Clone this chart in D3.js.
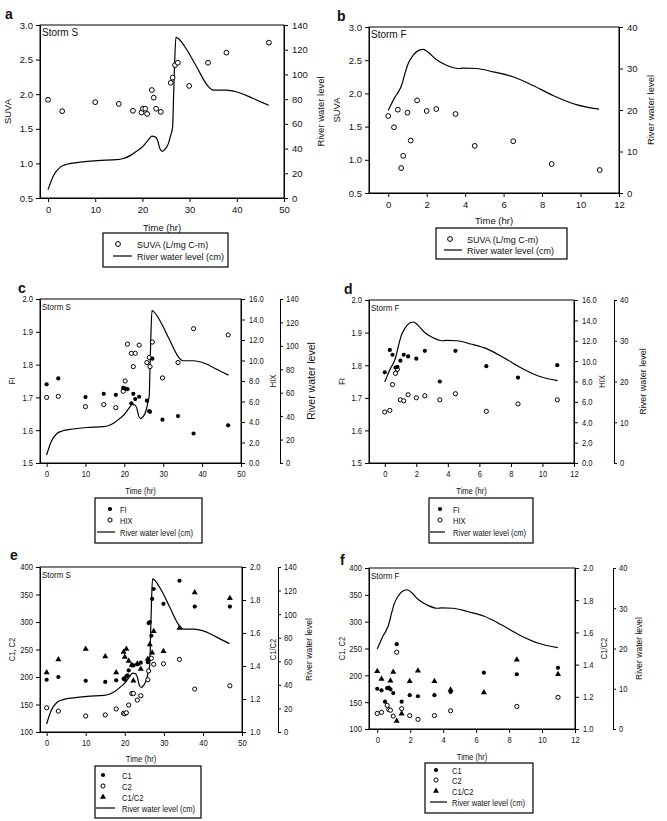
<!DOCTYPE html>
<html>
<head>
<meta charset="utf-8">
<script src="https://cdnjs.cloudflare.com/ajax/libs/d3/7.8.5/d3.min.js"></script>
<style>
  body { margin: 0; background: #fff; }
  text { font-family: "Liberation Sans", Arial, sans-serif; fill: #111; }
</style>
</head>
<body>
<svg id="chart" width="667" height="821"></svg>
<script>
// ---- river water level (cm) ----
const riverSTime  = [0, 1.2, 2.6, 4, 6.8, 10.4, 14.6, 16, 17.4, 18.8, 20, 21.2, 22, 22.7, 23.2, 23.7, 24.2, 24.8, 25.5, 26, 26.4, 26.6, 26.8, 27.1, 27.6, 29.4, 31.5, 33.9, 35, 37.8, 39.9, 43.5, 46.8];
const riverSLevel = [6.8, 18.4, 25, 27.3, 29, 30.3, 31, 32, 34.3, 38, 41.4, 46.8, 50, 49.5, 46.8, 40, 37.8, 39.5, 44, 50.8, 57.6, 82, 106, 130, 129, 120, 106, 90.5, 87.3, 87.3, 86, 80.5, 75];
const riverFTime  = [0, 0.17, 0.35, 0.52, 0.69, 0.87, 1.04, 1.3, 1.56, 1.82, 2.08, 2.51, 3.03, 3.64, 3.9, 4.59, 5.45, 6.49, 7.53, 8.57, 9.78, 10.96];
const riverFLevel = [19.9, 21.5, 23.1, 24.3, 25.9, 28.8, 31.2, 33.2, 34.3, 34.6, 33.9, 32.1, 30.8, 30, 30.1, 30, 29.2, 28, 25.9, 23.5, 21.3, 20.2];

// ---- a: SUVA storm S ----
const aTime = [0, 3, 10, 15, 18, 19.8, 20.1, 20.6, 21, 22, 22.4, 22.9, 23.9, 26, 26.4, 26.9, 27.5, 29.9, 33.9, 37.8, 46.8];
const aSuva = [1.92, 1.755, 1.885, 1.86, 1.76, 1.735, 1.79, 1.79, 1.715, 2.06, 1.95, 1.79, 1.745, 2.165, 2.24, 2.42, 2.455, 2.12, 2.455, 2.60, 2.745];

// ---- b: SUVA storm F ----
const bTime = [0, 0.3, 0.5, 0.67, 0.78, 1, 1.17, 1.5, 2, 2.5, 3.5, 4.5, 6.5, 8.5, 11];
const bSuva = [1.66, 1.49, 1.755, 0.876, 1.06, 1.71, 1.29, 1.895, 1.735, 1.765, 1.69, 1.21, 1.28, 0.937, 0.846];

// ---- c: FI / HIX storm S ----
const cTime = [0, 3, 10, 14.7, 17.8, 19.7, 20.2, 20.8, 21.8, 22.3, 22.8, 23.8, 25.8, 26.4, 26.6, 27.2, 29.8, 33.8, 37.8, 46.7];
const cFI   = [1.74, 1.758, 1.701, 1.711, 1.708, 1.729, 1.727, 1.725, 1.682, 1.711, 1.695, 1.702, 1.69, 1.658, 1.656, 1.818, 1.632, 1.643, 1.59, 1.615];
const cHIX  = [6.4, 6.5, 5.5, 5.7, 5.4, 7.0, 8.0, 11.6, 10.7, 9.4, 10.7, 11.5, 9.8, 10.3, 9.4, 11.8, 8.3, 9.8, 13.1, 12.5];

// ---- d: FI / HIX storm F ----
const dTime = [0, 0.32, 0.49, 0.68, 0.8, 0.99, 1.2, 1.48, 2.0, 2.54, 3.49, 4.48, 6.44, 8.45, 10.94];
const dFI   = [1.778, 1.847, 1.832, 1.793, 1.795, 1.814, 1.832, 1.827, 1.82, 1.844, 1.75, 1.844, 1.797, 1.762, 1.80];
const dHIX  = [5.0, 5.16, 7.7, 8.8, 9.2, 6.2, 6.1, 6.7, 6.4, 6.6, 6.2, 6.8, 5.07, 5.8, 6.2];

// ---- e: C1 / C2 storm S ----
const eTime  = [0, 3, 10, 15, 17.8, 19.7, 20, 20.4, 20.7, 21, 21.8, 22.2, 23.2, 24.1, 25.9, 26.1, 26.4, 26.8, 27, 27.4, 29.9, 34, 37.9, 46.9];
const eC1    = [195, 200, 193, 191, 194, 197, 195, 201, 203, 212, 221, 221, 223, 226, 227, 298, 300, 275, 342, 360, 333, 375, 328, 328];
const eC2    = [144, 138, 129, 131, 142, 134, 133, 135, null, 149, 170, 170, 158, 166, 195, 211, null, 234, null, 223, 224, 232, 178, 184];
const eRatio = [1.36, 1.44, 1.503, 1.457, 1.36, 1.485, 1.455, 1.503, null, 1.43, 1.406, 1.31, 1.414, 1.382, 1.442, null, 1.53, null, 1.48, 1.61, 1.49, 1.63, 1.845, 1.81];

// ---- f: C1 / C2 storm F ----
const fTime  = [0, 0.26, 0.47, 0.6, 0.7, 0.8, 0.97, 1.18, 1.48, 1.97, 2.47, 3.47, 4.45, 6.47, 8.47, 10.97];
const fC1    = [175, 172, 151, 176, 177, 174, 167, 258, 151, 163, 161, 163, 169, 205, 202, 214];
const fC2    = [129, 131, null, 144, 136, 135, 124, 243, 138, 125, 118, 125, 134, null, 142, 159];
const fRatio = [1.358, 1.31, null, null, null, 1.30, 1.354, 1.05, 1.095, 1.296, 1.362, 1.296, 1.244, 1.227, 1.43, 1.34];

const svg = d3.select("#chart");
const num1 = d3.format(".1f");

function marker(sel, type, cx, cy, r) {
  if (type === "open") {
    sel.append("circle").attr("cx", cx).attr("cy", cy).attr("r", r)
      .attr("fill", "#fff").attr("stroke", "#000").attr("stroke-width", 1);
  } else if (type === "filled") {
    sel.append("circle").attr("cx", cx).attr("cy", cy).attr("r", r).attr("fill", "#000");
  } else {
    sel.append("path").attr("d", d3.symbol(d3.symbolTriangle).size(r * r * 3.6)())
      .attr("transform", `translate(${cx},${cy})`).attr("fill", "#000");
  }
}

function panel(p) {
  const g = svg.append("g");
  const fs = p.fs;
  const r = p.narrow ? 2.1 : 2.4;
  const x = d3.scaleLinear().domain(p.xDomain).range([p.left, p.right]);
  const scales = {};
  scales.L = d3.scaleLinear().domain(p.yL.domain).range([p.bottom, p.top]);
  scales.R = d3.scaleLinear().domain(p.yR.domain).range([p.bottom, p.top]);
  if (p.y3) scales.T = d3.scaleLinear().domain(p.y3.domain).range([p.bottom, p.top]);

  const styleAxis = a => {
    a.selectAll("path,line").attr("stroke", "#000").attr("stroke-width", 1);
    a.selectAll("text").attr("font-size", fs).attr("fill", "#111");
  };

  g.append("g").attr("transform", `translate(0,${p.bottom})`)
    .call(d3.axisBottom(x).tickValues(p.xTicks).tickSize(4).tickPadding(4).tickSizeOuter(0))
    .call(styleAxis);
  g.append("g").attr("transform", `translate(${p.left},0)`)
    .call(d3.axisLeft(scales.L).tickValues(p.yL.ticks).tickFormat(p.yL.fmt).tickSize(4).tickPadding(3).tickSizeOuter(0))
    .call(styleAxis);
  g.append("g").attr("transform", `translate(${p.right},0)`)
    .call(d3.axisRight(scales.R).tickValues(p.yR.ticks).tickFormat(p.yR.fmt).tickSize(4).tickPadding(4).tickSizeOuter(0))
    .call(styleAxis);
  if (p.y3) {
    g.append("g").attr("transform", `translate(${p.y3.x},0)`)
      .call(d3.axisRight(scales.T).tickValues(p.y3.ticks).tickFormat(p.y3.fmt).tickSize(3).tickPadding(3).tickSizeOuter(0))
      .call(styleAxis);
  }
  g.append("rect").attr("x", p.left).attr("y", p.top)
    .attr("width", p.right - p.left).attr("height", p.bottom - p.top)
    .attr("fill", "none").attr("stroke", "#000").attr("stroke-width", 1);

  // river line
  const ry = scales[p.river.axis];
  const rdata = p.river.t.map((t, i) => [t, p.river.v[i]]);
  g.append("path").datum(rdata)
    .attr("d", d3.line().x(d => x(d[0])).y(d => ry(d[1])).curve(d3.curveMonotoneX))
    .attr("fill", "none").attr("stroke", "#000").attr("stroke-width", 1.2);

  // points
  p.series.forEach(s => {
    const ys = scales[s.axis];
    s.t.forEach((t, i) => {
      if (s.v[i] == null) return;
      marker(g, s.type, x(t), ys(s.v[i]), r);
    });
  });

  // titles
  g.append("text").attr("x", p.left + 2).attr("y", p.top + 11)
    .attr("font-size", fs + 0.5).text(p.storm);
  g.append("text").attr("x", (p.left + p.right) / 2).attr("y", p.bottom + p.timeDy)
    .attr("text-anchor", "middle").attr("font-size", fs).text("Time (hr)");
  const midY = (p.top + p.bottom) / 2;
  p.yTitles.forEach(([label, xx]) => {
    g.append("text").attr("transform", `translate(${xx},${midY}) rotate(-90)`)
      .attr("text-anchor", "middle").attr("font-size", fs).text(label);
  });

  // legend
  const L = p.legend;
  g.append("rect").attr("x", L.x0).attr("y", L.y0)
    .attr("width", L.x1 - L.x0).attr("height", L.y1 - L.y0)
    .attr("fill", "#fff").attr("stroke", "#000").attr("stroke-width", 1.2);
  L.items.forEach((it, i) => {
    const yy = L.rows[i];
    if (it.type === "line") {
      g.append("line").attr("x1", L.lx[0]).attr("x2", L.lx[1]).attr("y1", yy).attr("y2", yy)
        .attr("stroke", "#000").attr("stroke-width", 1.2);
    } else {
      marker(g, it.type, L.mx, yy, r);
    }
    g.append("text").attr("x", L.tx).attr("y", yy + 3.5).attr("font-size", p.legendFs || fs).text(it.label);
  });

  // condensed lettering for the lower panels (the original used a narrow face)
  if (p.narrow) {
    g.selectAll("text").each(function () {
      const len = this.getComputedTextLength();
      d3.select(this).attr("textLength", len * 0.84).attr("lengthAdjust", "spacingAndGlyphs");
    });
    // the outer river title is set in a plain face
    g.append("text").attr("transform", `translate(${p.riverTitle[0]},${midY}) rotate(-90)`)
      .attr("text-anchor", "middle").attr("font-size", p.riverTitle[1]).text("River water level");
  }

  g.append("text").attr("x", p.letter[0]).attr("y", p.letter[1])
    .attr("font-size", 14).attr("font-weight", "bold").text(p.letterText);
}

const xS = [0, 10, 20, 30, 40, 50];
const xF = [0, 2, 4, 6, 8, 10, 12];
const suvaAxis = { domain: [0.5, 3.0], ticks: [0.5, 1.0, 1.5, 2.0, 2.5, 3.0], fmt: num1 };
const fiAxis   = { domain: [1.5, 2.0], ticks: [1.5, 1.6, 1.7, 1.8, 1.9, 2.0], fmt: num1 };
const hixAxis  = { domain: [0, 16], ticks: [0, 2, 4, 6, 8, 10, 12, 14, 16], fmt: num1 };
const cAxis    = { domain: [100, 400], ticks: [100, 150, 200, 250, 300, 350, 400], fmt: d3.format("d") };
const rAxis    = { domain: [1.0, 2.0], ticks: [1.0, 1.2, 1.4, 1.6, 1.8, 2.0], fmt: num1 };
const lvlS     = { domain: [0, 140], ticks: [0, 20, 40, 60, 80, 100, 120, 140], fmt: d3.format("d") };
const lvlF     = { domain: [0, 40], ticks: [0, 10, 20, 30, 40], fmt: d3.format("d") };

const riverLegend = "River water level (cm)";

panel({
  left: 40, right: 284, top: 25, bottom: 198, xDomain: [-1.7, 50], xTicks: xS, fs: 9.5, legendFs: 9,
  yL: suvaAxis, yR: lvlS, river: { t: riverSTime, v: riverSLevel, axis: "R" },
  series: [{ t: aTime, v: aSuva, axis: "L", type: "open" }],
  letter: [5, 19], letterText: "a", storm: "Storm S", timeDy: 33,
  yTitles: [["SUVA", 11], ["River water level", 324]],
  legend: { x0: 103, x1: 228, y0: 233, y1: 267, rows: [244, 256], mx: 118, lx: [113, 132], tx: 137,
    items: [{ type: "open", label: "SUVA (L/mg C-m)" }, { type: "line", label: riverLegend }] }
});

panel({
  left: 369, right: 619, top: 27, bottom: 193, xDomain: [-1, 12], xTicks: xF, fs: 9.5, legendFs: 9,
  yL: suvaAxis, yR: lvlF, river: { t: riverFTime, v: riverFLevel, axis: "R" },
  series: [{ t: bTime, v: bSuva, axis: "L", type: "open" }],
  letter: [337, 21], letterText: "b", storm: "Storm F", timeDy: 31,
  yTitles: [["SUVA", 340], ["River water level", 654]],
  legend: { x0: 436, x1: 567, y0: 228, y1: 259, rows: [239, 250], mx: 450, lx: [444, 462], tx: 467,
    items: [{ type: "open", label: "SUVA (L/mg C-m)" }, { type: "line", label: riverLegend }] }
});

panel({
  left: 40, right: 241, top: 299, bottom: 463, xDomain: [-1.7, 50], xTicks: xS, fs: 9, narrow: true,
  yL: fiAxis, yR: hixAxis, y3: Object.assign({ x: 280 }, lvlS),
  river: { t: riverSTime, v: riverSLevel, axis: "T" }, riverTitle: [315, 10.5],
  series: [{ t: cTime, v: cHIX, axis: "R", type: "open" }, { t: cTime, v: cFI, axis: "L", type: "filled" }],
  letter: [18, 293], letterText: "c", storm: "Storm S", timeDy: 31,
  yTitles: [["FI", 15], ["HIX", 276]],
  legend: { x0: 95, x1: 202, y0: 498, y1: 543, rows: [509, 520, 532], mx: 110, lx: [97, 115], tx: 120,
    items: [{ type: "filled", label: "FI" }, { type: "open", label: "HIX" }, { type: "line", label: riverLegend }] }
});

panel({
  left: 369, right: 574, top: 300, bottom: 463, xDomain: [-1, 12], xTicks: xF, fs: 9, narrow: true,
  yL: fiAxis, yR: hixAxis, y3: Object.assign({ x: 614 }, lvlF),
  river: { t: riverFTime, v: riverFLevel, axis: "T" }, riverTitle: [646, 9],
  series: [{ t: dTime, v: dHIX, axis: "R", type: "open" }, { t: dTime, v: dFI, axis: "L", type: "filled" }],
  letter: [344, 294], letterText: "d", storm: "Storm F", timeDy: 31,
  yTitles: [["FI", 345], ["HIX", 605]],
  legend: { x0: 429, x1: 533, y0: 498, y1: 543, rows: [509, 520, 532], mx: 440, lx: [430, 445], tx: 453,
    items: [{ type: "filled", label: "FI" }, { type: "open", label: "HIX" }, { type: "line", label: riverLegend }] }
});

panel({
  left: 40, right: 242, top: 567, bottom: 732, xDomain: [-1.7, 50], xTicks: xS, fs: 9, narrow: true,
  yL: cAxis, yR: rAxis, y3: Object.assign({ x: 278 }, lvlS),
  river: { t: riverSTime, v: riverSLevel, axis: "T" }, riverTitle: [312, 8.5],
  series: [{ t: eTime, v: eC2, axis: "L", type: "open" }, { t: eTime, v: eC1, axis: "L", type: "filled" },
           { t: eTime, v: eRatio, axis: "R", type: "tri" }],
  letter: [10, 560], letterText: "e", storm: "Storm S", timeDy: 30,
  yTitles: [["C1, C2", 15], ["C1/C2", 276]],
  legend: { x0: 95, x1: 201, y0: 766, y1: 818, rows: [775, 786, 797, 808], mx: 103, lx: [96, 115], tx: 122,
    items: [{ type: "filled", label: "C1" }, { type: "open", label: "C2" }, { type: "tri", label: "C1/C2" },
            { type: "line", label: riverLegend }] }
});

panel({
  left: 369, right: 575, top: 568, bottom: 729, xDomain: [-0.5, 12], xTicks: xF, fs: 9, narrow: true,
  yL: cAxis, yR: rAxis, y3: Object.assign({ x: 613 }, lvlF),
  river: { t: riverFTime, v: riverFLevel, axis: "T" }, riverTitle: [642, 8.5],
  series: [{ t: fTime, v: fC2, axis: "L", type: "open" }, { t: fTime, v: fC1, axis: "L", type: "filled" },
           { t: fTime, v: fRatio, axis: "R", type: "tri" }],
  letter: [340, 565], letterText: "f", storm: "Storm F", timeDy: 31,
  yTitles: [["C1, C2", 345], ["C1/C2", 607]],
  legend: { x0: 425, x1: 533, y0: 763, y1: 813, rows: [770, 780, 791, 802], mx: 436, lx: [430, 447], tx: 452,
    items: [{ type: "filled", label: "C1" }, { type: "open", label: "C2" }, { type: "tri", label: "C1/C2" },
            { type: "line", label: riverLegend }] }
});
</script>
</body>
</html>
